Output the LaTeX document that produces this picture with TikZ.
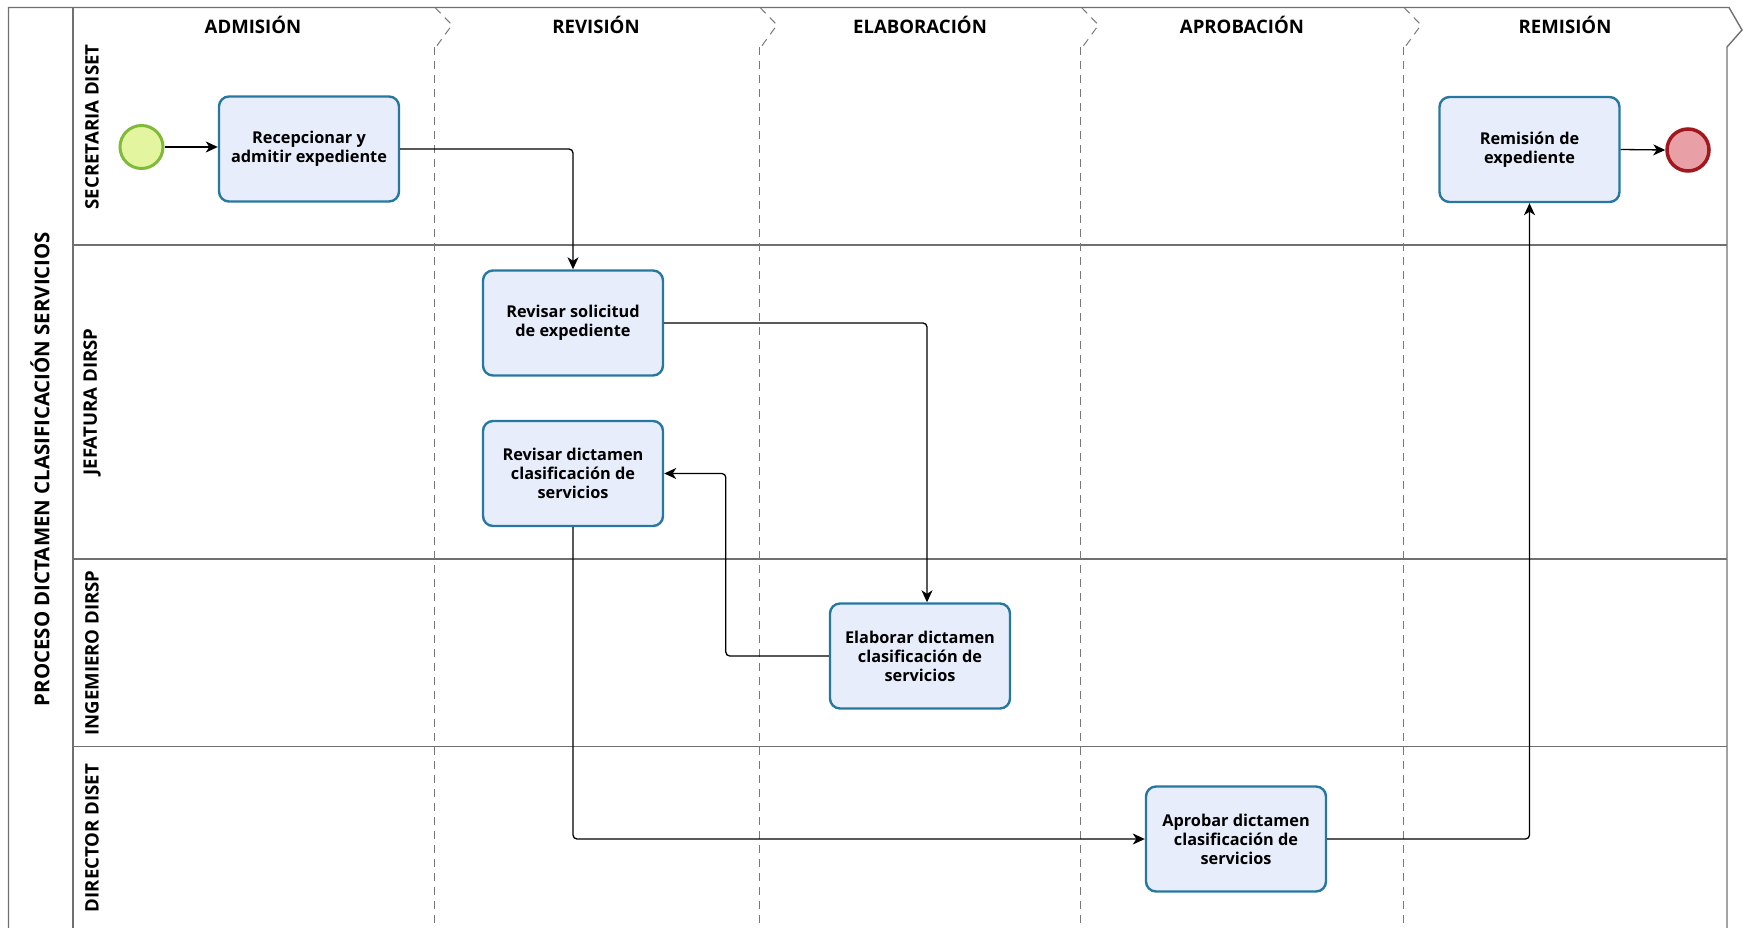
\documentclass[tikz,border=0pt]{standalone}
\usepackage{fontspec}
\setmainfont{Open Sans}
\usetikzlibrary{arrows.meta}
\definecolor{framegray}{RGB}{112,112,112}
\definecolor{dashgray}{RGB}{120,120,120}
\definecolor{taskfill}{RGB}{232,237,251}
\definecolor{taskdraw}{RGB}{38,120,160}
\definecolor{startfill}{RGB}{228,245,160}
\definecolor{startdraw}{RGB}{128,186,58}
\definecolor{endfill}{RGB}{232,160,166}
\definecolor{enddraw}{RGB}{160,24,30}
\begin{document}
\begin{tikzpicture}[x=1pt,y=-1pt,
  frame/.style={draw=framegray,line width=1.4pt},
  divider/.style={draw=dashgray,line width=1pt,dash pattern=on 8pt off 6pt},
  task/.style={draw=taskdraw,fill=taskfill,line width=2.4pt,rounded corners=10pt,
    minimum width=180pt,minimum height=105pt,align=center,inner sep=2pt,
    font=\fontsize{16.3}{19}\selectfont\bfseries},
  startev/.style={circle,draw=startdraw,fill=startfill,line width=3pt,minimum size=43pt,inner sep=0pt},
  endev/.style={circle,draw=enddraw,fill=endfill,line width=3.5pt,minimum size=42pt,inner sep=0pt},
  flow/.style={draw=black,line width=1.3pt,rounded corners=4pt,-{Stealth[length=12pt,width=11pt,inset=3.5pt]}},
  phase/.style={font=\fontsize{18.6}{20}\selectfont\bfseries},
  lanelabel/.style={font=\fontsize{18.6}{20}\selectfont\bfseries,rotate=90},
]
\useasboundingbox (0,0) rectangle (1743,928);

% pool frame with the closing chevron on the right
\draw[frame] (8.5,928) -- (8.5,7.5) -- (1729,7.5) -- (1742,30) -- (1727,47) -- (1727,928);
\draw[frame] (73,7.5) -- (73,928);
% lane separators
\foreach \yy in {245,559,746.5} \draw[frame] (73,\yy) -- (1727,\yy);
% phase dividers with their chevrons
\foreach \xx in {434,759,1080.5,1403} {
  \draw[divider] (\xx+1,7.5) -- (\xx+18,25) -- (\xx+2,47);
  \draw[divider] (\xx,47) -- (\xx,928);
}

% titles
\node[lanelabel,font=\fontsize{20.4}{22}\selectfont\bfseries] (pool) at (40,469) {PROCESO DICTAMEN CLASIFICACIÓN SERVICIOS};
\node[lanelabel] (l1) at (92,127) {SECRETARIA DISET};
\node[lanelabel] (l2) at (92,402) {JEFATURA DIRSP};
\node[lanelabel] (l3) at (92,653) {INGEMIERO DIRSP};
\node[lanelabel] (l4) at (92,838) {DIRECTOR DISET};

\node[phase] (p1) at (253,24.5) {ADMISIÓN};
\node[phase] (p2) at (596,24.5) {REVISIÓN};
\node[phase] (p3) at (920,24.5) {ELABORACIÓN};
\node[phase] (p4) at (1242,24.5) {APROBACIÓN};
\node[phase] (p5) at (1565,24.5) {REMISIÓN};

% events and tasks
\node[startev] (start) at (141.5,147) {};
\node[endev] (end) at (1688,150) {};
\node[task] (t1) at (309,149) {Recepcionar y\\admitir expediente};
\node[task] (t2) at (573,323) {Revisar solicitud\\de expediente};
\node[task] (t3) at (573,473.5) {Revisar dictamen\\clasificación de\\servicios};
\node[task] (t4) at (920,656) {Elaborar dictamen\\clasificación de\\servicios};
\node[task] (t5) at (1236,839) {Aprobar dictamen\\clasificación de\\servicios};
\node[task] (t6) at (1529.5,149.5) {Remisión de\\expediente};

% sequence flows
\draw[flow] (start.east) -- (start.east -| t1.west);
\draw[flow] (t1.east) -| (t2.north);
\draw[flow] (t2.east) -| ([xshift=7pt]t4.north);
\draw[flow] (t4.west) -- ++(-103,0) |- (t3.east);
\draw[flow] (t3.south) |- (t5.west);
\draw[flow] (t5.east) -| (t6.south);
\draw[flow] (t6.east) -- (end.west);
\end{tikzpicture}
\end{document}
